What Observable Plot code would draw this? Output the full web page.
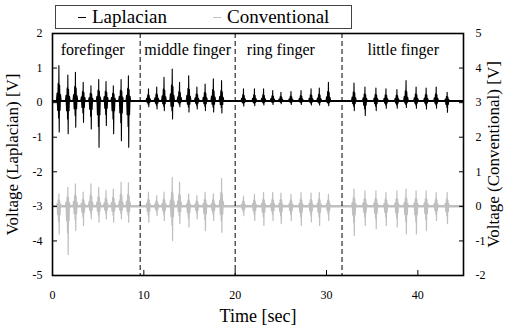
<!DOCTYPE html>
<html><head><meta charset="utf-8">
<script src="https://cdn.jsdelivr.net/npm/d3@7"></script>
<script src="https://cdn.jsdelivr.net/npm/@observablehq/plot@0.6"></script>
<style>
body{margin:0;background:#fff;font-family:"Liberation Serif","Times New Roman",serif;}
#wrap{position:relative;width:505px;height:326px;}
#legend{position:absolute;left:55px;top:5px;width:297px;height:24px;border:1px solid #444;box-sizing:border-box;background:#fff;font-size:19px;line-height:22px;color:#000;z-index:2;}
#legend .item{position:absolute;top:0;white-space:nowrap;}
#legend .sw{display:inline-block;width:8px;height:1.5px;vertical-align:middle;margin-right:6px;position:relative;top:-1px;}
</style></head><body>
<div id="wrap"><div id="legend"></div></div>
<script>
// ---- data ----
const fingers = ["forefinger", "middle finger", "ring finger", "little finger"];
const fingerLabelT = [4.4, 14.8, 25.0, 38.4];      // label centres (sec)
const separatorsT = [9.6, 20.0, 31.7];             // dashed boundaries (sec)
const xTicks = [0, 10, 20, 30, 40];
const lapTicks = [-5, -4, -3, -2, -1, 0, 1, 2];
const convTicks = [-2, -1, 0, 1, 2, 3, 4, 5];
const lapDomain = [-5, 2];
const convDomain = [-2, 5];
const timeDomain = [0, 45];
const seriesNames = ["Laplacian", "Conventional"];

// burst (contraction) times, sec
const burstT = [
  0.69, 1.67, 2.5, 3.35, 4.2, 5.05, 5.85, 6.65, 7.5, 8.3,
  10.5, 11.4, 12.2, 13.1, 13.9, 14.9, 15.8, 16.7, 17.6, 18.5,
  20.9, 22.1, 23.1, 24.1, 25.0, 26.1, 27.2, 28.3, 29.2, 30.2,
  33.0, 34.2, 35.4, 36.5, 37.7, 38.7, 39.8, 40.9, 42.0, 43.2
];
// Laplacian peak (+) and trough (-), V
const lapTop = [
  1.02, 0.75, 0.83, 0.54, 0.44, 0.62, 0.56, 0.44, 0.62, 0.73,
  0.35, 0.40, 0.68, 0.92, 0.54, 0.73, 0.40, 0.49, 0.64, 0.59,
  0.35, 0.35, 0.35, 0.30, 0.25, 0.27, 0.30, 0.35, 0.37, 0.54,
  0.52, 0.40, 0.37, 0.35, 0.33, 0.59, 0.40, 0.37, 0.40, 0.25
];
const lapBottom = [
  -0.90, -0.95, -0.76, -0.62, -0.81, -1.34, -0.71, -0.95, -1.15, -1.34,
  -0.17, -0.23, -0.28, -0.52, -0.17, -0.32, -0.23, -0.28, -0.32, -0.35,
  -0.15, -0.14, -0.12, -0.10, -0.08, -0.10, -0.10, -0.12, -0.12, -0.14,
  -0.28, -0.42, -0.28, -0.21, -0.21, -0.19, -0.21, -0.23, -0.21, -0.33
];
const lapBase = 0.05;
// Conventional peak (+) and trough (-), V (right axis)
const convTop = [
  0.36, 0.55, 0.65, 0.41, 0.65, 0.55, 0.46, 0.50, 0.70, 0.68,
  0.41, 0.31, 0.41, 0.83, 0.70, 0.36, 0.31, 0.41, 0.36, 0.80,
  0.30, 0.35, 0.40, 0.40, 0.38, 0.35, 0.40, 0.38, 0.40, 0.35,
  0.50, 0.45, 0.45, 0.40, 0.45, 0.50, 0.45, 0.45, 0.40, 0.40
];
const convBottom = [
  -0.80, -1.39, -0.70, -0.55, -0.36, -0.46, -0.36, -0.46, -0.36, -0.46,
  -0.46, -0.27, -0.41, -0.99, -0.50, -0.60, -0.36, -0.70, -0.41, -0.75,
  -0.27, -0.41, -0.55, -0.41, -0.50, -0.41, -0.55, -0.45, -0.55, -0.41,
  -0.84, -0.55, -0.65, -0.55, -0.60, -0.80, -0.80, -0.70, -0.41, -0.50
];
const convBase = 0;

// ---- drawing ----
// waveform template for one burst (time offset, share of peak(+)/trough(-))
const shape = [
  [-0.26, 0], [-0.19, 0.22], [-0.13, -0.3], [-0.07, 0.5], [-0.025, -0.55],
  [0.01, 1.0], [0.045, -1.0], [0.09, 0.45], [0.14, -0.3], [0.19, 0.18], [0.26, 0]
];
function trace(tops, bottoms, base) {
  const pts = [{t: timeDomain[0], v: base}];
  burstT.forEach((t0, i) => {
    for (const [dt, k] of shape) {
      pts.push({t: t0 + dt, v: base + (k >= 0 ? k * tops[i] : -k * bottoms[i])});
    }
  });
  pts.push({t: timeDomain[1], v: base});
  return pts;
}
const lapTrace = trace(lapTop, lapBottom, lapBase);
const convTrace = trace(convTop, convBottom, convBase);
const shift = lapDomain[0] - convDomain[0];
const gray = "#bfbfbf";

const chart = Plot.plot({
  width: 505, height: 326,
  marginLeft: 52, marginRight: 42, marginTop: 33, marginBottom: 51,
  x: {domain: timeDomain},
  y: {domain: lapDomain},
  style: {fontFamily: "'Liberation Serif', serif", fontSize: "12px", color: "#000", background: "#fff"},
  marks: [
    Plot.ruleY([convBase + shift], {stroke: gray, strokeWidth: 2.5}),
    Plot.line(convTrace, {x: "t", y: d => d.v + shift, stroke: gray, strokeWidth: 1.2}),
    Plot.ruleY([lapBase], {stroke: "#000", strokeWidth: 2}),
    Plot.line(lapTrace, {x: "t", y: "v", stroke: "#000", strokeWidth: 1.1}),
    Plot.ruleX(separatorsT, {stroke: "#000", strokeWidth: 1, strokeDasharray: "5,3"}),
    Plot.text(fingers, {x: (d, i) => fingerLabelT[i], text: d => d, frameAnchor: "top", lineAnchor: "middle", dy: 16, fontSize: 16}),
    Plot.axisX({ticks: xTicks, tickSize: -5, tickPadding: 20, tickFormat: d => String(d), label: null, fontSize: 12}),
    Plot.axisY({anchor: "left", ticks: lapTicks, tickSize: -5, tickPadding: 15, tickFormat: d => String(d), label: null, fontSize: 12}),
    Plot.axisY({anchor: "right", ticks: convTicks.map(v => v + shift), tickSize: -5, tickPadding: 17, tickFormat: d => String(d - shift), label: null, fontSize: 12}),
    Plot.frame({stroke: "#000", strokeWidth: 1.6}),
    Plot.text(["Time [sec]"], {frameAnchor: "bottom", lineAnchor: "middle", textAnchor: "middle", dy: 41, fontSize: 18}),
    Plot.text(["Voltage (Laplacian) [V]"], {frameAnchor: "left", textAnchor: "middle", lineAnchor: "middle", dx: -40, rotate: -90, fontSize: 17}),
    Plot.text(["Voltage (Conventional) [V]"], {frameAnchor: "right", textAnchor: "middle", lineAnchor: "middle", dx: 30, rotate: -90, fontSize: 17})
  ]
});
document.getElementById("wrap").appendChild(chart);

const legend = document.getElementById("legend");
const items = [
  {name: seriesNames[0], color: "#000", left: 22},
  {name: seriesNames[1], color: gray, left: 157}
];
for (const it of items) {
  const s = document.createElement("span");
  s.className = "item";
  s.style.left = it.left + "px";
  s.innerHTML = `<span class="sw" style="background:${it.color}"></span>${it.name}`;
  legend.appendChild(s);
}
</script>
</body></html>
